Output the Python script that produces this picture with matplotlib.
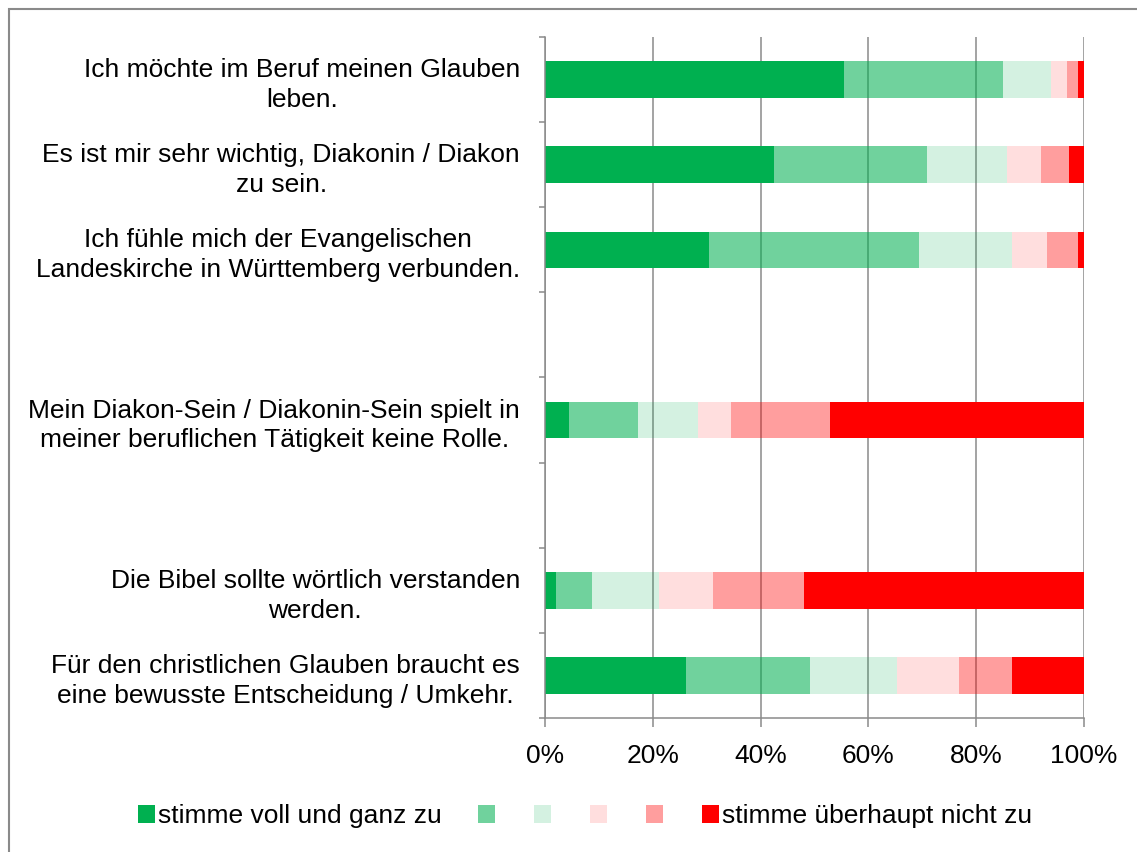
import numpy as np
import matplotlib
matplotlib.use("Agg")
import matplotlib.pyplot as plt
from matplotlib.patches import Rectangle, Patch

plt.rcParams['font.family'] = ['Liberation Sans', 'DejaVu Sans']

categories = [
    "Ich möchte im Beruf meinen Glauben\nleben.",
    "Es ist mir sehr wichtig, Diakonin / Diakon\nzu sein.",
    "Ich fühle mich der Evangelischen\nLandeskirche in Württemberg verbunden.",
    "",
    "Mein Diakon-Sein / Diakonin-Sein spielt in\nmeiner beruflichen Tätigkeit keine Rolle.",
    "",
    "Die Bibel sollte wörtlich verstanden\nwerden.",
    "Für den christlichen Glauben braucht es\neine bewusste Entscheidung / Umkehr.",
]

series_labels = ["stimme voll und ganz zu", "", "", "", "", "stimme überhaupt nicht zu"]

# percentages per answer level (None = empty slot)
s1 = [55.5, 42.4, 30.4, None, 4.4, None, 2.1, 26.1]
s2 = [29.5, 28.4, 38.9, None, 12.9, None, 6.7, 23.1]
s3 = [8.9, 15.0, 17.3, None, 11.1, None, 12.4, 16.1]
s4 = [2.9, 6.2, 6.5, None, 6.1, None, 9.9, 11.6]
s5 = [2.0, 5.2, 5.7, None, 18.4, None, 16.9, 9.8]
s6 = [1.2, 2.8, 1.2, None, 47.1, None, 52.0, 13.3]

x_ticks = [0, 20, 40, 60, 80, 100]
x_ticklabels = ["0%", "20%", "40%", "60%", "80%", "100%"]

series = [s1, s2, s3, s4, s5, s6]
colors = ["#00B050", "#00B050", "#00B050", "#FF0000", "#FF0000", "#FF0000"]
alphas = [1.0, 0.56, 0.17, 0.13, 0.38, 1.0]

fig = plt.figure(figsize=(11.37, 8.52), dpi=100)
ax = fig.add_axes([545 / 1137, 1 - 718 / 852, 539 / 1137, 681 / 852])

y = np.arange(len(categories))
left = np.zeros(len(categories))
handles = []
for vals, c, a, lab in zip(series, colors, alphas, series_labels):
    v = np.array([np.nan if t is None else t for t in vals], dtype=float)
    ax.barh(y, v, left=left, height=0.43, color=c, alpha=a, linewidth=0)
    left = left + np.nan_to_num(v)
    handles.append(Patch(facecolor=c, alpha=a, linewidth=0))

ax.set_xlim(0, 100)
ax.set_ylim(len(categories) - 0.5, -0.5)
ax.set_axisbelow(True)
ax.xaxis.grid(True, color="#8a8a8a", linewidth=1.1)
ax.yaxis.grid(False)

ax.set_xticks(x_ticks)
ax.set_xticklabels(x_ticklabels, fontsize=19)
ax.tick_params(axis='x', length=6.5, width=1.1, color="#8a8a8a", pad=12)

ax.set_yticks(np.arange(-0.5, len(categories) + 0.5, 1.0))
ax.set_yticklabels([])
ax.tick_params(axis='y', which='major', length=4, width=1.1, color="#8a8a8a")
ax.set_yticks(y, minor=True)
ax.set_yticklabels(categories, minor=True, fontsize=19, multialignment='center', linespacing=1.3)
ax.tick_params(axis='y', which='minor', length=0, pad=18)

for s in ['top', 'right']:
    ax.spines[s].set_visible(False)
for s in ['left', 'bottom']:
    ax.spines[s].set_color("#8a8a8a")
    ax.spines[s].set_linewidth(1.1)

fig.legend(handles, series_labels, loc='center', bbox_to_anchor=(585 / 1137, 1 - 816 / 852),
           ncol=6, frameon=False, fontsize=19, handlelength=0.65, handleheight=0.7,
           handletextpad=0.12, columnspacing=1.35, borderaxespad=0)

fig.patches.append(Rectangle((8.5 / 1137, -0.1), 1.5, 1.1 - 8.5 / 852, transform=fig.transFigure,
                             fill=False, edgecolor="#8a8a8a", linewidth=1.5, clip_on=False))

fig.savefig("out.png", dpi=100)
